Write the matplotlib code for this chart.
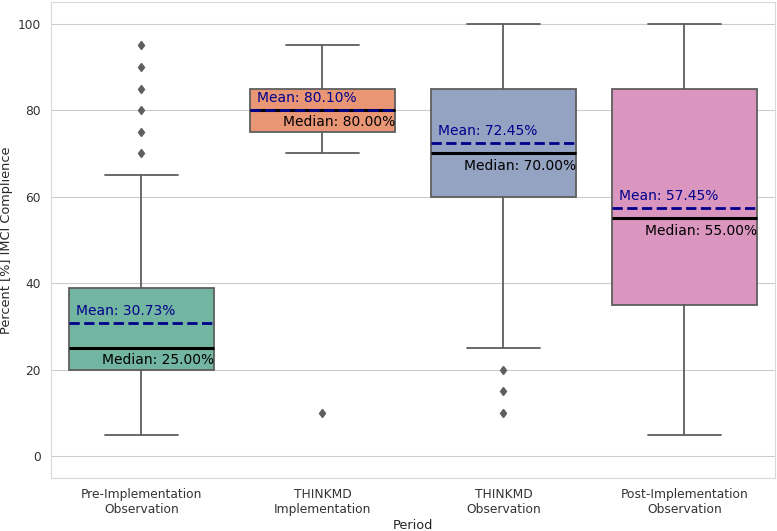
import matplotlib
matplotlib.use("Agg")
import matplotlib.pyplot as plt
import seaborn as sns
import numpy as np

periods = ["Pre-Implementation\nObservation", "THINKMD\nImplementation",
           "THINKMD\nObservation", "Post-Implementation\nObservation"]
q1 = [20, 75, 60, 35]
median = [25, 80, 70, 55]
q3 = [39, 85, 85, 85]
whislo = [5, 70, 25, 5]
whishi = [65, 95, 100, 100]
fliers = [[70, 75, 80, 85, 90, 95], [10], [10, 15, 20], []]
means = [30.73, 80.10, 72.45, 57.45]

sns.set_style("whitegrid")
plt.rcParams['font.family'] = ['DejaVu Sans']

colors = [sns.desaturate(c, 0.75) for c in sns.color_palette("Set2", 4)]
gray = "#5e5e5e"

fig = plt.figure(figsize=(7.77, 5.31), dpi=100)
ax = fig.add_axes([0.0656, 0.0998, 0.9318, 0.8964])

stats = []
for i in range(len(periods)):
    stats.append(dict(q1=q1[i], med=median[i], q3=q3[i], whislo=whislo[i],
                      whishi=whishi[i], fliers=fliers[i], label=periods[i]))

pos = np.arange(len(periods))
bp = ax.bxp(stats, positions=pos, widths=0.8, patch_artist=True,
            boxprops=dict(edgecolor=gray, linewidth=1.3),
            whiskerprops=dict(color=gray, linewidth=1.3),
            capprops=dict(color=gray, linewidth=1.3),
            medianprops=dict(color="black", linewidth=2.2),
            flierprops=dict(marker="d", markerfacecolor=gray, markeredgecolor=gray,
                            markersize=4.5, linestyle="none"),
            capwidths=0.4)
for patch, c in zip(bp["boxes"], colors):
    patch.set_facecolor(c)

for i, x in enumerate(pos):
    ax.hlines(means[i], x - 0.4, x + 0.4, colors="darkblue", linestyles="--",
              linewidth=2, zorder=3)
    ax.text(x - 0.36, means[i] + 1.2, f"Mean: {means[i]:.2f}%", color="darkblue",
            fontsize=10, ha="left", va="bottom", zorder=4)
    ax.text(x + 0.4, median[i] - 1.2, f"Median: {median[i]:.2f}%", color="black",
            fontsize=10, ha="right", va="top", zorder=4)

ax.set_xlim(-0.5, 3.5)
ax.set_ylim(-5, 105)
ax.set_xticks(pos)
ax.set_xticklabels(periods)
ax.tick_params(labelsize=8.8, colors=".2", pad=4)
ax.xaxis.grid(False)
for sp in ax.spines.values():
    sp.set_color(".85")
ax.set_xlabel("Period", fontsize=9.3, color=".15", labelpad=2)
ax.set_ylabel("Percent [%] IMCI Complience", fontsize=9.3, color=".15", labelpad=3)

fig.savefig("out.png", dpi=100)
